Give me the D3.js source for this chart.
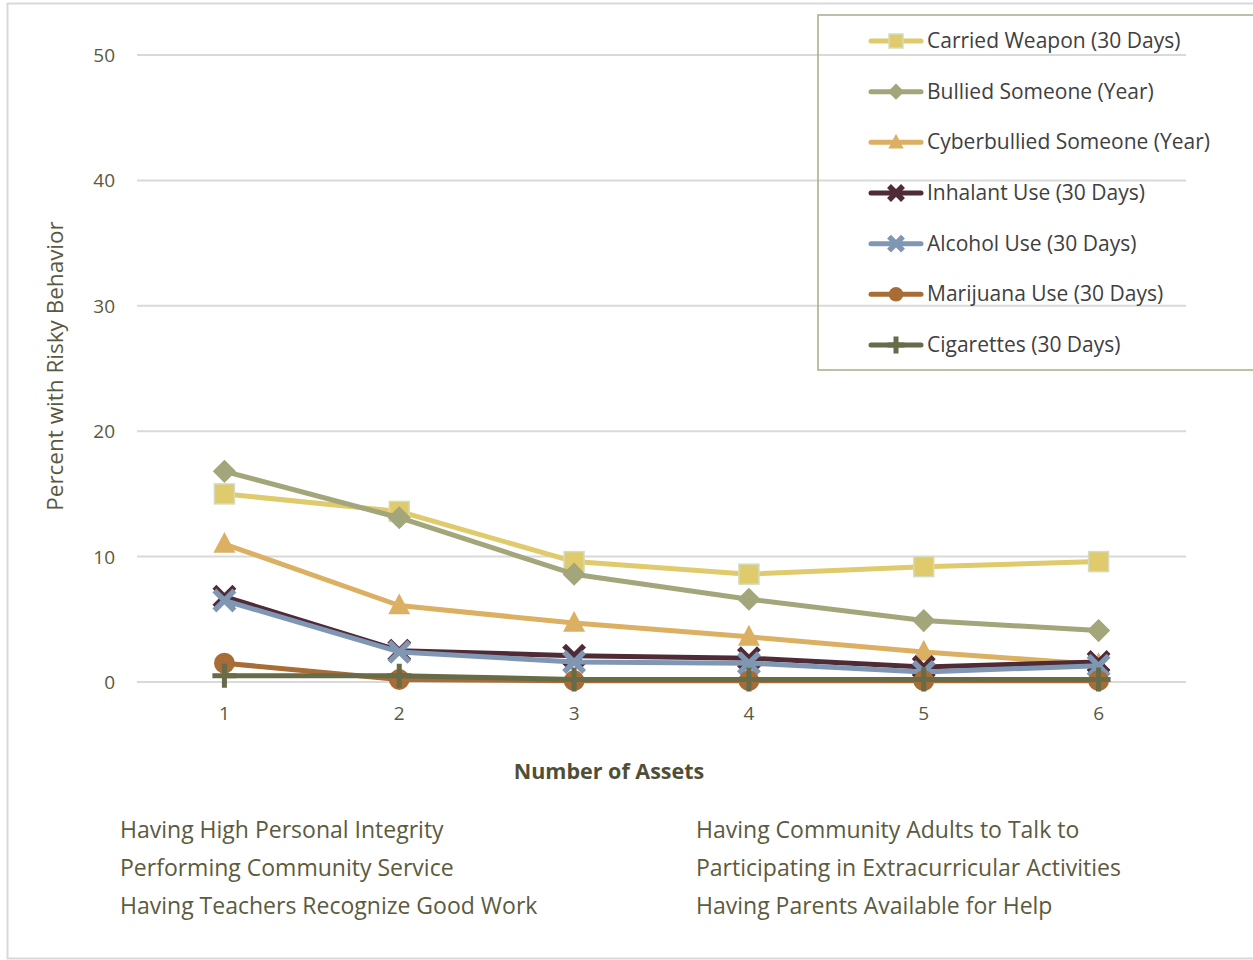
<!DOCTYPE html>
<html>
  <head>
    <script src="https://cdn.jsdelivr.net/npm/d3@7/dist/d3.min.js" charset="utf-8"></script>
    <style type="text/css">
    body { margin: 0; background: #fff; }
    text { font-family: "Open Sans", "Noto Sans", sans-serif; }
    </style>
  </head>
  <body>
  <script type="text/javascript">
  // data
  var categories = [1, 2, 3, 4, 5, 6];
  var seriesNames = ["Carried Weapon (30 Days)", "Bullied Someone (Year)", "Cyberbullied Someone (Year)",
                     "Inhalant Use (30 Days)", "Alcohol Use (30 Days)", "Marijuana Use (30 Days)", "Cigarettes (30 Days)"];
  var carriedWeapon = [15.0, 13.6, 9.6, 8.6, 9.2, 9.6];
  var bulliedSomeone = [16.8, 13.1, 8.6, 6.6, 4.9, 4.1];
  var cyberbullied = [11.0, 6.1, 4.7, 3.6, 2.4, 1.4];
  var inhalantUse = [6.8, 2.5, 2.1, 1.9, 1.2, 1.6];
  var alcoholUse = [6.5, 2.4, 1.6, 1.5, 0.8, 1.3];
  var marijuanaUse = [1.5, 0.2, 0.1, 0.1, 0.1, 0.1];
  var cigarettes = [0.5, 0.5, 0.2, 0.2, 0.2, 0.2];
  var yTicks = [0, 10, 20, 30, 40, 50];
  var assetsLeft = ["Having High Personal Integrity", "Performing Community Service", "Having Teachers Recognize Good Work"];
  var assetsRight = ["Having Community Adults to Talk to", "Participating in Extracurricular Activities", "Having Parents Available for Help"];

  var colors = ["#dfca6c", "#a3a57a", "#dcb062", "#4f2a37", "#7f97b3", "#a86c36", "#676b47"];
  var shapes = ["square", "diamond", "triangle", "x", "x", "circle", "plus"];
  var allValues = [carriedWeapon, bulliedSomeone, cyberbullied, inhalantUse, alcoholUse, marijuanaUse, cigarettes];
  var series = seriesNames.map(function(n, i) { return { name: n, values: allValues[i], color: colors[i], shape: shapes[i] }; });

  var W = 1253, H = 960;
  var svg = d3.select("body").append("svg").attr("width", W).attr("height", H);

  // outer frame
  svg.append("rect").attr("x", 7.5).attr("y", 3.5).attr("width", W).attr("height", 955)
    .attr("fill", "none").attr("stroke", "#d9d9d9").attr("stroke-width", 2);

  var x = d3.scalePoint().domain(categories).range([137, 1186]).padding(0.5);
  var y = d3.scaleLinear().domain([0, 50]).range([682, 55]);

  // gridlines
  svg.selectAll("line.grid").data(yTicks).enter().append("line")
    .attr("class", "grid")
    .attr("x1", 137).attr("x2", 1186)
    .attr("y1", function(d) { return y(d); }).attr("y2", function(d) { return y(d); })
    .attr("stroke", "#d9d9d9").attr("stroke-width", 2);

  // y tick labels
  svg.selectAll("text.ytick").data(yTicks).enter().append("text")
    .attr("class", "ytick")
    .attr("x", 115).attr("y", function(d) { return y(d) + 7; })
    .attr("text-anchor", "end").attr("font-size", 19).attr("fill", "#595940")
    .text(function(d) { return d; });

  // x tick labels
  svg.selectAll("text.xtick").data(categories).enter().append("text")
    .attr("class", "xtick")
    .attr("x", function(d) { return x(d); }).attr("y", 720)
    .attr("text-anchor", "middle").attr("font-size", 19).attr("fill", "#595940")
    .text(function(d) { return d; });

  // axis titles
  svg.append("text")
    .attr("transform", "translate(63,366) rotate(-90)")
    .attr("text-anchor", "middle").attr("font-size", 22.5).attr("fill", "#595940")
    .text("Percent with Risky Behavior");
  svg.append("text")
    .attr("x", 609).attr("y", 779)
    .attr("text-anchor", "middle").attr("font-size", 21.5).attr("font-weight", "bold").attr("fill", "#4f4f36")
    .text("Number of Assets");

  // marker drawing
  function marker(g, shape, color, s) {
    if (shape === "square") {
      g.append("rect").attr("x", -s / 2).attr("y", -s / 2).attr("width", s).attr("height", s)
        .attr("fill", color).attr("stroke", "#d3dcc0").attr("stroke-width", 1.5);
    } else if (shape === "diamond") {
      var r = s * 0.58;
      g.append("path").attr("d", "M0," + (-r) + "L" + r + ",0L0," + r + "L" + (-r) + ",0Z").attr("fill", color);
    } else if (shape === "triangle") {
      var t = s * 0.55;
      g.append("path").attr("d", "M0," + (-t * 1.1) + "L" + t + "," + (t * 0.8) + "L" + (-t) + "," + (t * 0.8) + "Z").attr("fill", color);
    } else if (shape === "x") {
      var a = s * 0.5;
      g.append("path").attr("d", "M" + (-a) + "," + (-a) + "L" + a + "," + a + "M" + a + "," + (-a) + "L" + (-a) + "," + a)
        .attr("stroke", color).attr("stroke-width", 5.5).attr("fill", "none");
    } else if (shape === "circle") {
      g.append("circle").attr("r", s * 0.52).attr("fill", color);
    } else if (shape === "plus") {
      var p = s * 0.6;
      g.append("path").attr("d", "M0," + (-p) + "L0," + p + "M" + (-p) + ",0L" + p + ",0")
        .attr("stroke", color).attr("stroke-width", 5).attr("fill", "none");
    }
  }

  var line = d3.line()
    .x(function(d, i) { return x(categories[i]); })
    .y(function(d) { return y(d); });

  series.forEach(function(s) {
    var g = svg.append("g");
    g.append("path").attr("d", line(s.values))
      .attr("fill", "none").attr("stroke", s.color).attr("stroke-width", 5)
      .attr("stroke-linejoin", "round");
    s.values.forEach(function(v, i) {
      var mg = g.append("g").attr("transform", "translate(" + x(categories[i]) + "," + y(v) + ")");
      marker(mg, s.shape, s.color, 20);
    });
  });

  // legend
  var legend = svg.append("g");
  legend.append("rect").attr("x", 818).attr("y", 15).attr("width", 460).attr("height", 355)
    .attr("fill", "none").attr("stroke", "#a9aa86").attr("stroke-width", 1.5);
  var ly = d3.scalePoint().domain(seriesNames).range([41, 345]);
  series.forEach(function(s) {
    var cy = ly(s.name);
    legend.append("line").attr("x1", 871).attr("x2", 921).attr("y1", cy).attr("y2", cy)
      .attr("stroke", s.color).attr("stroke-width", 5).attr("stroke-linecap", "round");
    var mg = legend.append("g").attr("transform", "translate(896," + cy + ")");
    marker(mg, s.shape, s.color, 14);
    legend.append("text").attr("x", 927).attr("y", cy + 7)
      .attr("font-size", 21).attr("fill", "#404040").text(s.name);
  });

  // asset lists under the chart
  svg.selectAll("text.assetL").data(assetsLeft).enter().append("text")
    .attr("class", "assetL")
    .attr("x", 120).attr("y", function(d, i) { return 838 + i * 38; })
    .attr("font-size", 23).attr("fill", "#5b5b40")
    .text(function(d) { return d; });
  svg.selectAll("text.assetR").data(assetsRight).enter().append("text")
    .attr("class", "assetR")
    .attr("x", 696).attr("y", function(d, i) { return 838 + i * 38; })
    .attr("font-size", 23).attr("fill", "#5b5b40")
    .text(function(d) { return d; });
  </script>
  </body>
</html>
